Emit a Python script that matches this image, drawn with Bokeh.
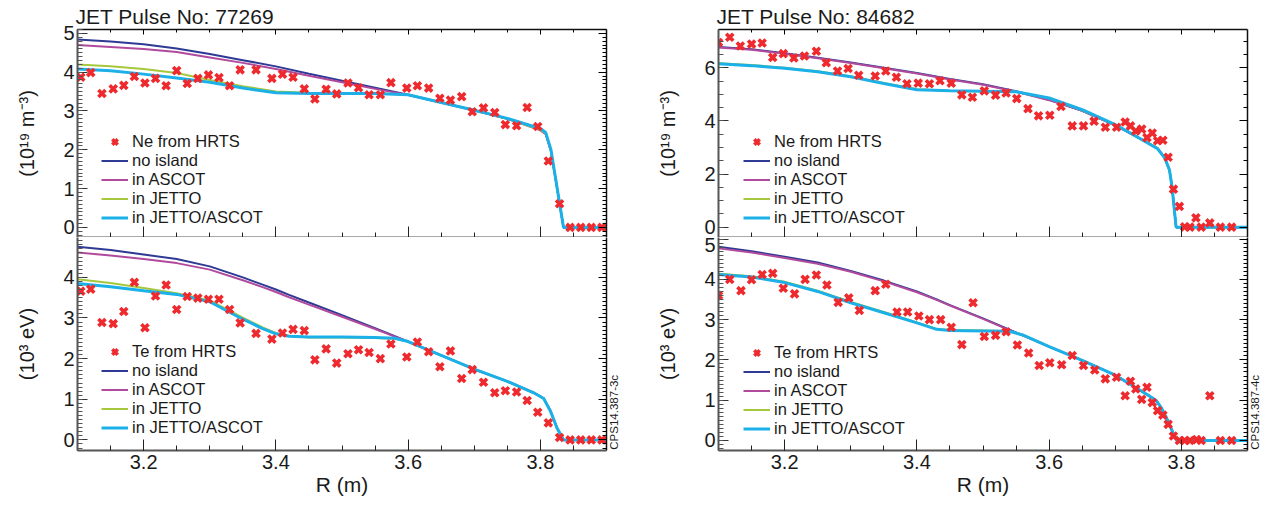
import math
from bokeh.plotting import figure
from bokeh.models import (Range1d, LinearAxis, SingleIntervalTicker, FixedTicker, Legend,
                          LegendItem, CustomJSTickFormatter)
from bokeh.layouts import row, column
from bokeh.embed import file_html
from bokeh.resources import INLINE

FONT = "Liberation Sans"

# ---------------- data: pulse 77269 ----------------
TITLE_1 = "JET Pulse No: 77269"
R_HRTS_1 = [3.105, 3.120, 3.137, 3.154, 3.170, 3.186, 3.202, 3.218, 3.234, 3.250,
            3.266, 3.282, 3.298, 3.314, 3.330, 3.346, 3.370, 3.394, 3.410, 3.426,
            3.443, 3.459, 3.476, 3.492, 3.509, 3.525, 3.541, 3.558, 3.574, 3.598,
            3.614, 3.631, 3.648, 3.664, 3.681, 3.697, 3.714, 3.731, 3.747, 3.764,
            3.780, 3.796, 3.812, 3.829, 3.845, 3.861, 3.877, 3.893]
NE_HRTS_1 = [3.87, 3.99, 3.45, 3.57, 3.66, 3.89, 3.72, 3.84, 3.65, 4.04,
             3.71, 3.84, 3.93, 3.86, 3.65, 4.06, 4.06, 3.84, 3.95, 3.87,
             3.57, 3.31, 3.56, 3.44, 3.72, 3.60, 3.42, 3.42, 3.73, 3.59,
             3.65, 3.59, 3.33, 3.28, 3.37, 2.98, 3.08, 2.96, 2.65, 2.62,
             3.09, 2.60, 1.71, 0.61, 0.0, 0.0, 0.0, 0.0]
TE_HRTS_1 = [3.66, 3.71, 2.89, 2.86, 3.16, 3.88, 2.76, 3.54, 3.81, 3.21,
             3.53, 3.49, 3.46, 3.46, 3.21, 2.88, 2.62, 2.48, 2.63, 2.72,
             2.69, 1.97, 2.24, 1.89, 2.12, 2.22, 2.15, 2.00, 2.36, 2.04,
             2.41, 2.17, 1.80, 2.19, 1.51, 1.73, 1.42, 1.16, 1.21, 1.18,
             0.97, 0.68, 0.42, 0.06, 0.0, 0.0, 0.0, 0.0]

R_NE_SIM_1 = [3.10, 3.15, 3.20, 3.25, 3.30, 3.35, 3.40, 3.45, 3.50, 3.55,
              3.60, 3.65, 3.70, 3.75, 3.80, 3.808, 3.816, 3.835, 3.90]
NE_NOISL_1 = [4.84, 4.79, 4.72, 4.61, 4.47, 4.31, 4.15, 3.96, 3.78, 3.60,
              3.42, 3.22, 3.02, 2.80, 2.52, 2.42, 1.98, 0.0, 0.0]
NE_ASCOT_1 = [4.70, 4.65, 4.60, 4.52, 4.38, 4.24, 4.08, 3.91, 3.74, 3.57,
              3.41, 3.22, 3.02, 2.80, 2.50, 2.40, 1.96, 0.0, 0.0]
NE_JETTO_1 = [4.20, 4.15, 4.08, 3.98, 3.80, 3.64, 3.50, 3.47, 3.46, 3.46,
              3.42, 3.22, 3.02, 2.80, 2.51, 2.42, 1.98, 0.0, 0.0]
NE_JA_1 = [4.08, 4.04, 3.95, 3.85, 3.74, 3.59, 3.47, 3.45, 3.45, 3.45,
           3.42, 3.22, 3.02, 2.81, 2.55, 2.45, 2.00, 0.0, 0.0]

R_TE_SIM_1 = [3.10, 3.15, 3.20, 3.25, 3.30, 3.35, 3.38, 3.40, 3.42, 3.45,
              3.50, 3.55, 3.58, 3.60, 3.65, 3.70, 3.75, 3.79, 3.805, 3.815,
              3.825, 3.835, 3.90]
TE_NOISL_1 = [4.75, 4.67, 4.56, 4.45, 4.27, 4.00, 3.82, 3.70, 3.57, 3.38,
              3.07, 2.75, 2.55, 2.42, 2.08, 1.74, 1.44, 1.16, 1.02, 0.72,
              0.30, 0.0, 0.0]
TE_ASCOT_1 = [4.61, 4.54, 4.45, 4.35, 4.19, 3.93, 3.76, 3.64, 3.51, 3.33,
              3.03, 2.73, 2.54, 2.42, 2.08, 1.74, 1.44, 1.16, 1.02, 0.72,
              0.30, 0.0, 0.0]
TE_JETTO_1 = [3.95, 3.86, 3.74, 3.61, 3.43, 3.01, 2.77, 2.63, 2.56, 2.52,
              2.52, 2.51, 2.49, 2.42, 2.08, 1.74, 1.44, 1.16, 1.02, 0.72,
              0.30, 0.0, 0.0]
TE_JA_1 = [3.85, 3.77, 3.67, 3.58, 3.40, 2.97, 2.74, 2.61, 2.55, 2.53,
           2.53, 2.52, 2.50, 2.42, 2.08, 1.74, 1.44, 1.16, 1.02, 0.72,
           0.30, 0.0, 0.0]

# ---------------- data: pulse 84682 ----------------
TITLE_2 = "JET Pulse No: 84682"
R_NE_HRTS_2 = [3.100, 3.117, 3.133, 3.150, 3.166, 3.182, 3.198, 3.214, 3.230, 3.248,
               3.263, 3.280, 3.296, 3.312, 3.337, 3.353, 3.369, 3.385, 3.402, 3.419,
               3.435, 3.452, 3.468, 3.484, 3.502, 3.519, 3.535, 3.551, 3.568, 3.584,
               3.601, 3.618, 3.635, 3.652, 3.668, 3.685, 3.702, 3.715, 3.723, 3.731,
               3.740, 3.748, 3.756, 3.764, 3.772, 3.780, 3.788, 3.797, 3.805, 3.813,
               3.822, 3.830, 3.843, 3.859, 3.876]
NE_HRTS_2 = [6.95, 7.15, 6.82, 6.89, 6.93, 6.39, 6.53, 6.37, 6.44, 6.62,
             6.19, 5.88, 5.97, 5.72, 5.69, 5.88, 5.64, 5.40, 5.42, 5.40,
             5.51, 5.42, 4.98, 4.89, 5.13, 4.97, 5.05, 4.84, 4.46, 4.19,
             4.21, 4.54, 3.81, 3.81, 3.99, 3.76, 3.76, 3.96, 3.81, 3.62,
             3.69, 3.37, 3.54, 3.25, 3.27, 2.63, 1.43, 0.78, 0.01, 0.0,
             0.35, 0.0, 0.16, 0.0, 0.0]
R_TE_HRTS_2 = [3.100, 3.117, 3.134, 3.150, 3.166, 3.182, 3.198, 3.215, 3.231, 3.248,
               3.264, 3.281, 3.297, 3.313, 3.337, 3.353, 3.370, 3.386, 3.403, 3.419,
               3.436, 3.452, 3.468, 3.485, 3.502, 3.519, 3.535, 3.552, 3.569, 3.585,
               3.601, 3.619, 3.635, 3.652, 3.669, 3.685, 3.702, 3.715, 3.723, 3.731,
               3.740, 3.748, 3.756, 3.764, 3.772, 3.780, 3.788, 3.797, 3.805, 3.813,
               3.823, 3.830, 3.843, 3.859, 3.876]
TE_HRTS_2 = [3.60, 4.00, 3.72, 3.99, 4.12, 4.15, 3.78, 3.64, 4.00, 4.11,
             3.86, 3.43, 3.54, 3.23, 3.72, 3.88, 3.19, 3.19, 3.09, 3.00,
             3.00, 2.81, 2.38, 3.42, 2.58, 2.61, 2.70, 2.37, 2.17, 1.86,
             1.93, 1.88, 2.11, 1.86, 1.75, 1.53, 1.57, 1.11, 1.47, 1.28,
             1.02, 1.32, 0.94, 0.74, 0.63, 0.40, 0.11, 0.0, 0.0, 0.0,
             0.02, 0.0, 1.11, 0.0, 0.0]

R_NE_SIM_2 = [3.10, 3.15, 3.20, 3.25, 3.30, 3.35, 3.40, 3.45, 3.50, 3.55,
              3.60, 3.65, 3.70, 3.73, 3.764, 3.775, 3.782, 3.786, 3.792, 3.90]
NE_NOISL_2 = [6.78, 6.70, 6.55, 6.38, 6.20, 6.00, 5.80, 5.58, 5.38, 5.12,
              4.79, 4.38, 3.83, 3.44, 2.97, 2.60, 2.15, 1.50, 0.0, 0.0]
NE_ASCOT_2 = [6.76, 6.68, 6.53, 6.36, 6.18, 5.98, 5.78, 5.56, 5.36, 5.10,
              4.78, 4.38, 3.83, 3.44, 2.97, 2.60, 2.15, 1.50, 0.0, 0.0]
NE_JETTO_2 = [6.17, 6.10, 6.00, 5.87, 5.68, 5.43, 5.19, 5.13, 5.12, 5.10,
              4.85, 4.40, 3.85, 3.45, 2.97, 2.60, 2.15, 1.50, 0.0, 0.0]
NE_JA_2 = [6.15, 6.08, 5.98, 5.85, 5.66, 5.41, 5.17, 5.13, 5.12, 5.10,
           4.86, 4.42, 3.86, 3.44, 2.95, 2.60, 2.15, 1.50, 0.0, 0.0]

R_TE_SIM_2 = [3.10, 3.15, 3.20, 3.25, 3.30, 3.35, 3.40, 3.43, 3.45, 3.50,
              3.54, 3.56, 3.60, 3.65, 3.70, 3.75, 3.762, 3.770, 3.780, 3.787,
              3.793, 3.90]
TE_NOISL_2 = [4.81, 4.70, 4.56, 4.42, 4.21, 3.97, 3.70, 3.50, 3.36, 3.03,
              2.75, 2.61, 2.33, 1.99, 1.62, 1.12, 0.99, 0.80, 0.48, 0.20,
              0.0, 0.0]
TE_ASCOT_2 = [4.77, 4.67, 4.53, 4.39, 4.19, 3.95, 3.68, 3.49, 3.35, 3.02,
              2.74, 2.61, 2.33, 1.99, 1.62, 1.12, 0.99, 0.80, 0.48, 0.20,
              0.0, 0.0]
TE_JETTO_2 = [4.14, 4.08, 3.94, 3.72, 3.44, 3.19, 2.93, 2.77, 2.74, 2.73,
              2.71, 2.62, 2.33, 1.99, 1.62, 1.12, 0.99, 0.80, 0.48, 0.20,
              0.0, 0.0]
TE_JA_2 = [4.12, 4.06, 3.92, 3.70, 3.42, 3.17, 2.92, 2.76, 2.73, 2.72,
           2.71, 2.62, 2.33, 1.99, 1.62, 1.12, 0.99, 0.80, 0.48, 0.20,
           0.0, 0.0]

SERIES_NAMES = ["no island", "in ASCOT", "in JETTO", "in JETTO/ASCOT"]
SERIES_COLORS = ["#2e3a94", "#b04a9c", "#a5c83c", "#1bb0e8"]
SERIES_WIDTHS = [2, 2, 2, 3]
MARK_COLOR = "#ee2a2e"
X_LABEL = "R (m)"
NE_UNIT = "(10¹⁹ m⁻³)"
TE_UNIT = "(10³ eV)"
CODE_1 = "CPS14.387-3c"
CODE_2 = "CPS14.387-4c"

TXT = "#1a1a1a"


def blank():
    return CustomJSTickFormatter(code="return ''")


def style_axes(p, ytick, show_xlabels, top_ticks):
    p.outline_line_color = None
    p.xgrid.visible = False
    p.ygrid.visible = False
    xa = p.xaxis[0]
    xa.ticker = SingleIntervalTicker(interval=0.2, num_minor_ticks=4)
    xa.major_tick_in = 11
    xa.major_tick_out = 0
    xa.minor_tick_in = 5
    xa.minor_tick_out = 0
    xa.axis_line_color = "#555555"
    xa.axis_line_width = 2
    xa.major_tick_line_color = "#222222"
    xa.minor_tick_line_color = "#222222"
    if show_xlabels:
        xa.major_label_text_font = FONT
        xa.major_label_text_font_size = "20px"
        xa.major_label_text_color = TXT
        xa.major_label_standoff = 4
        xa.axis_label = X_LABEL
        xa.axis_label_text_font = FONT
        xa.axis_label_text_font_size = "21px"
        xa.axis_label_text_font_style = "normal"
        xa.axis_label_text_color = TXT
        xa.axis_label_standoff = 1
    else:
        xa.formatter = blank()
        xa.major_label_standoff = 0
    ya = p.yaxis[0]
    ya.ticker = ytick
    ya.major_tick_in = 10
    ya.major_tick_out = 0
    ya.minor_tick_in = 5
    ya.minor_tick_out = 0
    ya.axis_line_color = "#555555"
    ya.axis_line_width = 2
    ya.major_tick_line_color = "#333333"
    ya.minor_tick_line_color = "#555555"
    ya.major_label_text_font = FONT
    ya.major_label_text_font_size = "20px"
    ya.major_label_text_color = TXT
    ya.major_label_standoff = 3
    ya.axis_label_text_font = FONT
    ya.axis_label_text_font_size = "20px"
    ya.axis_label_text_font_style = "normal"
    ya.axis_label_text_color = TXT
    ya.axis_label_standoff = 22
    ra = LinearAxis(ticker=ytick, formatter=blank(), major_label_standoff=0,
                    major_tick_in=8, major_tick_out=0, minor_tick_in=4, minor_tick_out=0,
                    axis_line_color="#111111", axis_line_width=1.5)
    p.add_layout(ra, "right")
    if top_ticks:
        ta = LinearAxis(ticker=SingleIntervalTicker(interval=0.2, num_minor_ticks=4),
                        formatter=blank(), major_label_standoff=0,
                        major_tick_in=5, major_tick_out=0, minor_tick_in=3, minor_tick_out=0,
                        axis_line_color="#111111", axis_line_width=1.5)
        p.add_layout(ta, "above")


def panel(width, height, bl, br, bt, bb, yr, ytick, ylabel, show_xlabels, top_ticks,
          r_meas, v_meas, meas_label, r_sim, sims, legend_xy, title=None, code=None, code_y=0.0):
    p = figure(width=width, height=height, x_range=Range1d(3.1, 3.9), y_range=Range1d(*yr),
               output_backend="svg", toolbar_location=None,
               min_border_left=bl, min_border_right=br, min_border_top=bt, min_border_bottom=bb)
    p.background_fill_color = "white"
    p.border_fill_color = "white"
    if title:
        p.title.text = title
        p.title.align = "left"
        p.title.offset = -2
        p.title.standoff = 3
        p.title.text_font = FONT
        p.title.text_font_size = "21px"
        p.title.text_font_style = "normal"
        p.title.text_color = TXT
    style_axes(p, ytick, show_xlabels, top_ticks)
    p.yaxis[0].axis_label = ylabel
    if code:
        ca = LinearAxis(ticker=FixedTicker(ticks=[code_y], minor_ticks=[]),
                        formatter=CustomJSTickFormatter(code="return '%s'" % code),
                        major_label_orientation=math.pi / 2, axis_line_color=None,
                        major_tick_line_color=None, minor_tick_line_color=None,
                        major_label_text_font=FONT, major_label_text_font_size="11.5px",
                        major_label_text_color=TXT, major_label_standoff=2)
        p.add_layout(ca, "right")
    rends = []
    for vals, col, lw in zip(sims, SERIES_COLORS, SERIES_WIDTHS):
        rends.append(p.line(r_sim, vals, line_color=col, line_width=lw))
    sc = p.scatter(r_meas, v_meas, marker="x", size=10, line_width=3.6, line_color=MARK_COLOR)
    items = [LegendItem(label=meas_label, renderers=[sc])]
    for name, rr in zip(SERIES_NAMES, rends):
        items.append(LegendItem(label=name, renderers=[rr]))
    leg = Legend(items=items, location=legend_xy, padding=0, margin=0, spacing=0,
                 glyph_width=27, glyph_height=19, label_height=19, label_standoff=4,
                 label_text_font=FONT, label_text_font_size="16.5px", label_text_color=TXT,
                 border_line_color=None, background_fill_alpha=0)
    p.add_layout(leg)
    return p


FW_L, FW_R = 529, 530
FH_T, FH_B = 208, 213
BL_L, BL_R = 77, 69
BR_L, BR_R = 43, 22
BT = 29
BB = 50

p1 = panel(BL_L + FW_L + BR_L, BT + FH_T, BL_L, BR_L, BT, 0, (-0.26, 5.1),
           SingleIntervalTicker(interval=1, num_minor_ticks=10), NE_UNIT, False, True,
           R_HRTS_1, NE_HRTS_1, "Ne from HRTS", R_NE_SIM_1,
           [NE_NOISL_1, NE_ASCOT_1, NE_JETTO_1, NE_JA_1], (24, 10), title=TITLE_1)
p2 = panel(BL_L + FW_L + BR_L, FH_B + BB, BL_L, BR_L, 0, BB, (-0.26, 4.98),
           SingleIntervalTicker(interval=1, num_minor_ticks=10), TE_UNIT, True, False,
           R_HRTS_1, TE_HRTS_1, "Te from HRTS", R_TE_SIM_1,
           [TE_NOISL_1, TE_ASCOT_1, TE_JETTO_1, TE_JA_1], (24, 13), code=CODE_1, code_y=-0.24)
p3 = panel(BL_R + FW_R + BR_R, BT + FH_T, BL_R, BR_R, BT, 0, (-0.39, 7.44),
           SingleIntervalTicker(interval=2, num_minor_ticks=4), NE_UNIT, False, True,
           R_NE_HRTS_2, NE_HRTS_2, "Ne from HRTS", R_NE_SIM_2,
           [NE_NOISL_2, NE_ASCOT_2, NE_JETTO_2, NE_JA_2], (25, 10), title=TITLE_2)
p4 = panel(BL_R + FW_R + BR_R, FH_B + BB, BL_R, BR_R, 0, BB, (-0.25, 5.04),
           SingleIntervalTicker(interval=1, num_minor_ticks=10), TE_UNIT, True, False,
           R_TE_HRTS_2, TE_HRTS_2, "Te from HRTS", R_TE_SIM_2,
           [TE_NOISL_2, TE_ASCOT_2, TE_JETTO_2, TE_JA_2], (25, 12), code=CODE_2, code_y=-0.23)

layout = row(column(p1, p2), column(p3, p4))
open("out.html", "w").write(file_html(layout, INLINE))
